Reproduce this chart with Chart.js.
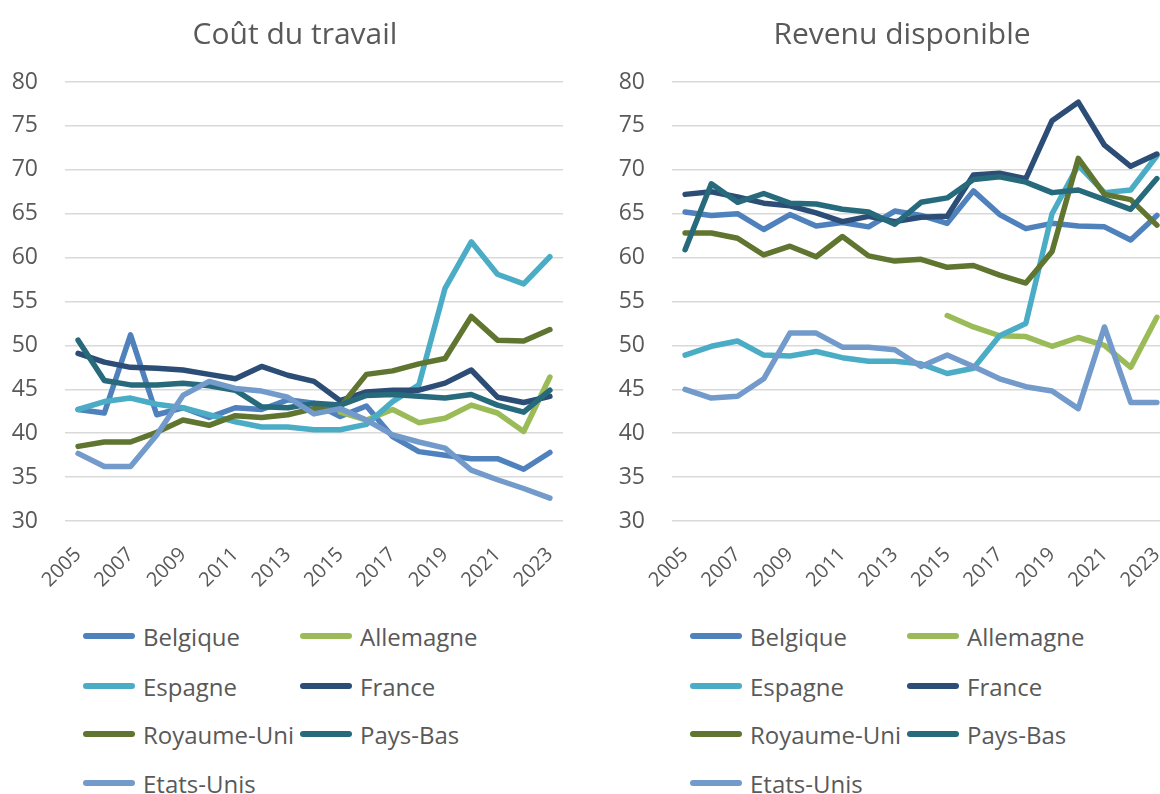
<!DOCTYPE html>
<html>
<head>
<meta charset="utf-8">
<script src="https://cdn.jsdelivr.net/npm/chart.js@4.4.1/dist/chart.umd.min.js"></script>
<style>
  html, body { margin: 0; padding: 0; background: #ffffff; width: 1160px; height: 794px; overflow: hidden; }
  #wrap { position: relative; width: 1160px; height: 794px; overflow: hidden; }
  canvas { position: absolute; top: 0; }
  .leg { position: absolute; display: flex; align-items: center; height: 30px; font-family: "Open Sans", sans-serif; font-size: 24px; color: #595959; white-space: nowrap; }
  .sw { display: inline-block; width: 52px; height: 6px; border-radius: 3px; margin-right: 8px; }
</style>
</head>
<body>
<div id="wrap">
  <canvas id="c1" width="590" height="600" style="left:0px"></canvas>
  <canvas id="c2" width="590" height="600" style="left:607px"></canvas>
</div>
<script>
// ---- Data ----
const years = ['2005','2006','2007','2008','2009','2010','2011','2012','2013','2014','2015','2016','2017','2018','2019','2020','2021','2022','2023'];
const seriesNames = ['Belgique','Allemagne','Espagne','France','Royaume-Uni','Pays-Bas','Etats-Unis'];
const seriesColors = ['#4F81BD','#9BBB59','#4BACC6','#2C4D75','#5F7530','#276A7C','#729ACA'];
const titles = ['Coût du travail', 'Revenu disponible'];
const yTicks = [30, 35, 40, 45, 50, 55, 60, 65, 70, 75, 80];

// Coût du travail
const belgiqueCout   = [42.7, 42.3, 51.2, 42.1, 42.9, 41.8, 42.9, 42.7, 43.8, 43.4, 41.9, 43.1, 39.6, 37.9, 37.5, 37.1, 37.1, 35.9, 37.8];
const allemagneCout  = [null, null, null, null, null, null, null, null, null, null, 42.4, 41.5, 42.7, 41.2, 41.7, 43.2, 42.3, 40.2, 46.4];
const espagneCout    = [42.7, 43.6, 44.0, 43.3, 42.9, 42.1, 41.3, 40.7, 40.7, 40.4, 40.4, 41.0, 43.6, 45.5, 56.5, 61.8, 58.1, 57.0, 60.1];
const franceCout     = [49.1, 48.1, 47.5, 47.4, 47.2, 46.7, 46.2, 47.6, 46.6, 45.9, 43.7, 44.7, 44.9, 44.9, 45.7, 47.2, 44.1, 43.5, 44.2];
const royaumeUniCout = [38.5, 39.0, 39.0, 40.1, 41.5, 40.9, 42.0, 41.8, 42.1, 42.8, 43.0, 46.7, 47.1, 47.9, 48.5, 53.3, 50.6, 50.5, 51.8];
const paysBasCout    = [50.6, 46.0, 45.5, 45.5, 45.7, 45.4, 44.9, 43.0, 42.9, 43.4, 43.2, 44.3, 44.4, 44.2, 44.0, 44.4, 43.2, 42.4, 44.9];
const etatsUnisCout  = [37.7, 36.2, 36.2, 39.8, 44.3, 45.9, 45.1, 44.8, 44.1, 42.2, 42.8, 41.5, 39.8, 39.0, 38.3, 35.8, 34.7, 33.7, 32.6];

// Revenu disponible
const belgiqueRev    = [65.2, 64.8, 65.0, 63.2, 64.9, 63.6, 64.0, 63.5, 65.3, 64.8, 63.9, 67.6, 64.9, 63.3, 63.9, 63.6, 63.5, 62.0, 64.8];
const allemagneRev   = [null, null, null, null, null, null, null, null, null, null, 53.4, 52.1, 51.1, 51.0, 49.9, 50.9, 50.0, 47.5, 53.2];
const espagneRev     = [48.9, 49.9, 50.5, 48.9, 48.8, 49.3, 48.6, 48.2, 48.2, 47.9, 46.8, 47.4, 51.1, 52.5, 65.0, 70.5, 67.4, 67.7, 71.6];
const franceRev      = [67.2, 67.5, 66.9, 66.2, 65.9, 65.1, 64.1, 64.7, 64.1, 64.6, 64.7, 69.4, 69.6, 69.0, 75.6, 77.7, 72.8, 70.4, 71.8];
const royaumeUniRev  = [62.8, 62.8, 62.2, 60.3, 61.3, 60.1, 62.4, 60.2, 59.6, 59.8, 58.9, 59.1, 58.0, 57.1, 60.7, 71.3, 67.2, 66.6, 63.7];
const paysBasRev     = [60.9, 68.4, 66.3, 67.3, 66.2, 66.1, 65.5, 65.2, 63.8, 66.3, 66.8, 68.9, 69.2, 68.6, 67.4, 67.7, 66.6, 65.5, 69.0];
const etatsUnisRev   = [45.0, 44.0, 44.2, 46.2, 51.4, 51.4, 49.8, 49.8, 49.5, 47.6, 48.9, 47.6, 46.2, 45.3, 44.8, 42.8, 52.1, 43.5, 43.5];

const coutSeries = [belgiqueCout, allemagneCout, espagneCout, franceCout, royaumeUniCout, paysBasCout, etatsUnisCout];
const revSeries  = [belgiqueRev, allemagneRev, espagneRev, franceRev, royaumeUniRev, paysBasRev, etatsUnisRev];

// ---- Rendering ----
const FONT = '"Open Sans", sans-serif';
const TXT = '#595959';

function makeChart(canvasId, title, seriesList) {
  const datasets = seriesList.map((vals, i) => ({
    label: seriesNames[i],
    data: vals,
    borderColor: seriesColors[i],
    backgroundColor: seriesColors[i],
    borderWidth: 5.5,
    pointRadius: 0,
    pointHoverRadius: 0,
    tension: 0,
    fill: false,
    spanGaps: false,
    borderCapStyle: 'round',
    borderJoinStyle: 'round',
    order: seriesList.length - i
  }));
  return new Chart(document.getElementById(canvasId), {
    type: 'line',
    data: { labels: years, datasets },
    options: {
      responsive: false,
      animation: false,
      devicePixelRatio: 1,
      layout: { padding: 0 },
      plugins: {
        legend: { display: false },
        tooltip: { enabled: false },
        title: {
          display: true,
          text: title,
          color: TXT,
          font: { family: FONT, size: 30, weight: 'normal', lineHeight: 1.2 },
          padding: { top: 17, bottom: 29 }
        }
      },
      scales: {
        x: {
          type: 'category',
          offset: true,
          grid: { display: false },
          border: { display: false },
          ticks: {
            autoSkip: false,
            minRotation: 45,
            maxRotation: 45,
            color: TXT,
            padding: 14,
            font: { family: FONT, size: 20 },
            callback: function(v, i) { return i % 2 === 0 ? years[i] : ''; }
          },
          afterFit: s => { s.height = 79; }
        },
        y: {
          min: yTicks[0],
          max: yTicks[yTicks.length - 1],
          afterBuildTicks: s => { s.ticks = yTicks.map(v => ({ value: v })); },
          grid: { color: '#D9D9D9', lineWidth: 1.5, drawTicks: false },
          border: { display: false },
          ticks: { color: TXT, padding: 27, font: { family: FONT, size: 23 } },
          afterFit: s => { s.width = 65; }
        },
        yPad: {
          position: 'right',
          display: true,
          grid: { display: false },
          border: { display: false },
          ticks: { display: false },
          afterFit: s => { s.width = 27; }
        }
      }
    }
  });
}

makeChart('c1', titles[0], coutSeries);
makeChart('c2', titles[1], revSeries);

// HTML legend (two columns, row-wise order)
const wrap = document.getElementById('wrap');
const rowY = [636, 686, 734, 783];
function addLegend(offsetX) {
  seriesNames.forEach((name, i) => {
    const row = Math.floor(i / 2), col = i % 2;
    const d = document.createElement('div');
    d.className = 'leg';
    d.style.left = (offsetX + (col === 0 ? 83 : 300)) + 'px';
    d.style.top = (rowY[row] - 15) + 'px';
    const sw = document.createElement('span');
    sw.className = 'sw';
    sw.style.background = seriesColors[i];
    const t = document.createElement('span');
    t.textContent = name;
    d.appendChild(sw);
    d.appendChild(t);
    wrap.appendChild(d);
  });
}
addLegend(0);
addLegend(607);
</script>
</body>
</html>
